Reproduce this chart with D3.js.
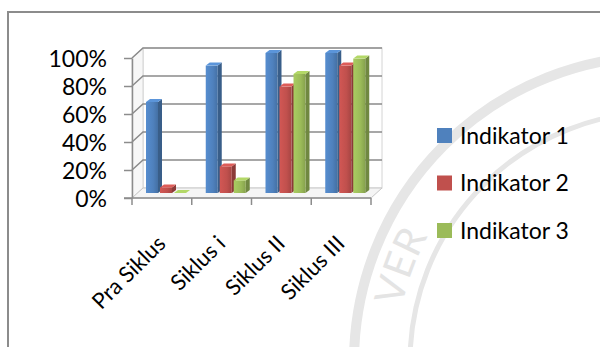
<!DOCTYPE html>
<html>
<head>
<meta charset="utf-8">
<script src="https://cdn.jsdelivr.net/npm/d3@7"></script>
<style>
  body { margin: 0; background: #fff; }
  svg { display: block; }
</style>
</head>
<body>
<svg id="chart" width="600" height="347"></svg>
<script>
// Data
const categories = ["Pra Siklus", "Siklus i", "Siklus II", "Siklus III"];
const seriesNames = ["Indikator 1", "Indikator 2", "Indikator 3"];
const indikator1 = [65, 91, 100, 100];
const indikator2 = [4, 19, 76, 91];
const indikator3 = [0, 9, 85, 96];
const yTicks = [0, 20, 40, 60, 80, 100];

const seriesValues = [indikator1, indikator2, indikator3];
const colors = ["#4F81BD", "#C0504D", "#9BBB59"];
const font = "Lato, 'Open Sans', sans-serif";

const svg = d3.select("#chart");

// background watermark (faint seal), only the lower letters show clear of the legend
const wm = svg.append("g").attr("fill", "none").attr("stroke", "#e6e6e6");
wm.append("circle").attr("cx", 660).attr("cy", 362).attr("r", 306).attr("stroke-width", 10);
wm.append("circle").attr("cx", 660).attr("cy", 362).attr("r", 250).attr("stroke-width", 5);
wm.append("path").attr("id", "wmArc")
    .attr("d", d3.arc()({ innerRadius: 264, outerRadius: 264, startAngle: -1.36, endAngle: -1.02 })
        .split("L")[0])
    .attr("transform", "translate(660,362)")
    .attr("stroke", "none");
wm.append("text")
    .attr("fill", "#e4e4e4").attr("stroke", "none")
    .attr("font-family", font).attr("font-size", 40)
    .append("textPath").attr("href", "#wmArc")
    .text("VER");

// outer frame
svg.append("rect")
    .attr("x", 8).attr("y", 12).attr("width", 620).attr("height", 360)
    .attr("fill", "none").attr("stroke", "#8c8c8c").attr("stroke-width", 2);

// scales
const y = d3.scaleLinear().domain([0, 100]).range([198, 58]);
const x0 = d3.scaleBand().domain(categories).range([132, 371]);
const x1 = d3.scaleBand().domain(seriesNames).range([0, 42]);

// 3D depth of walls and bars
const DX = 11, DY = -10;
const BX = 5, BY = -5;
const barW = 12, sideX = 4, sideY = -3;

const plot = svg.append("g");
const xL = x0.range()[0], xR = x0.range()[1];

// back wall
plot.append("rect")
    .attr("x", xL + DX).attr("y", y(100) + DY)
    .attr("width", xR - xL).attr("height", y(0) - y(100))
    .attr("fill", "#fff").attr("stroke", "#d4d4d4");

// left wall
plot.append("path")
    .attr("d", `M${xL},${y(100)}L${xL + DX},${y(100) + DY}L${xL + DX},${y(0) + DY}L${xL},${y(0)}Z`)
    .attr("fill", "#f7f7f7").attr("stroke", "#d4d4d4");

// floor
plot.append("path")
    .attr("d", `M${xL},${y(0)}L${xL + DX},${y(0) + DY}L${xR + DX},${y(0) + DY}L${xR},${y(0)}Z`)
    .attr("fill", "#f5f5f5").attr("stroke", "#c8c8c8");

// gridlines (left wall + back wall)
plot.append("g")
    .selectAll("path")
    .data(yTicks.filter(d => d > 0))
    .join("path")
    .attr("d", d => `M${xL},${y(d)}L${xL + DX},${y(d) + DY}L${xR + DX},${y(d) + DY}`)
    .attr("fill", "none")
    .attr("stroke", "#8a8a8a")
    .attr("stroke-width", 1.5);

// bars
const bars = [];
categories.forEach((c, i) => {
    seriesNames.forEach((s, j) => {
        bars.push({ c, s, j, v: seriesValues[j][i] });
    });
});

const defs = svg.append("defs");
colors.forEach((col, j) => {
    const g = defs.append("linearGradient").attr("id", "grad" + j)
        .attr("x1", 0).attr("x2", 1).attr("y1", 0).attr("y2", 0);
    g.append("stop").attr("offset", "0%").attr("stop-color", d3.color(col).brighter(0.25));
    g.append("stop").attr("offset", "60%").attr("stop-color", col);
    g.append("stop").attr("offset", "100%").attr("stop-color", d3.color(col).darker(0.4));
});

const barG = plot.append("g")
    .selectAll("g")
    .data(bars)
    .join("g");

const bx = d => x0(d.c) + 9 + x1(d.s) + BX;
const btop = d => y(d.v) + BY;
const bbot = y(0) + BY;

barG.append("path")
    .attr("d", d => {
        const x = bx(d), t = btop(d);
        return `M${x + barW},${t}L${x + barW + sideX},${t + sideY}L${x + barW + sideX},${bbot + sideY}L${x + barW},${bbot}Z`;
    })
    .attr("fill", d => d3.color(colors[d.j]).darker(0.9));

barG.append("rect")
    .attr("x", bx)
    .attr("y", btop)
    .attr("width", barW)
    .attr("height", d => bbot - btop(d))
    .attr("fill", d => `url(#grad${d.j})`);

barG.append("path")
    .attr("d", d => {
        const x = bx(d), t = btop(d);
        return `M${x},${t}L${x + sideX},${t + sideY}L${x + barW + sideX},${t + sideY}L${x + barW},${t}Z`;
    })
    .attr("fill", d => d3.color(colors[d.j]).brighter(0.4));

// y axis
const yAxis = plot.append("g")
    .attr("transform", `translate(${xL},0)`)
    .call(d3.axisLeft(y).tickValues(yTicks).tickFormat(d => d + "%").tickSize(8).tickSizeOuter(0).tickPadding(17));
yAxis.select(".domain").attr("stroke", "#8c8c8c").attr("stroke-width", 1.5);
yAxis.selectAll(".tick line").attr("stroke", "#8c8c8c").attr("stroke-width", 1.5);
yAxis.selectAll("text")
    .attr("font-family", font).attr("font-size", 23).attr("fill", "#000")
    .attr("dy", "0.36em");

// x axis
const xAxisG = plot.append("g").attr("transform", `translate(0,${y(0)})`);
xAxisG.append("line")
    .attr("x1", xL - 8).attr("x2", xR).attr("y1", 0).attr("y2", 0)
    .attr("stroke", "#8c8c8c").attr("stroke-width", 1.5);
xAxisG.selectAll(".xtick")
    .data(categories.concat(["end"]))
    .join("line")
    .attr("x1", (d, i) => i < categories.length ? x0(d) : xR)
    .attr("x2", (d, i) => i < categories.length ? x0(d) : xR)
    .attr("y1", 0).attr("y2", 7)
    .attr("stroke", "#8c8c8c").attr("stroke-width", 1.5);
xAxisG.selectAll(".xlabel")
    .data(categories)
    .join("text")
    .attr("transform", d => `translate(${x0(d) + x0.bandwidth() / 2 + 5},${47}) rotate(-45)`)
    .attr("text-anchor", "end")
    .attr("font-family", font).attr("font-size", 22).attr("fill", "#000")
    .text(d => d);

// legend
const legend = svg.append("g")
    .selectAll("g")
    .data(seriesNames)
    .join("g")
    .attr("transform", (d, i) => `translate(437,${128 + i * 47.5})`);
legend.append("rect")
    .attr("width", 15).attr("height", 15)
    .attr("fill", (d, i) => colors[i]);
legend.append("text")
    .attr("x", 23).attr("y", 7.5).attr("dy", "0.36em")
    .attr("font-family", font).attr("font-size", 23).attr("fill", "#000")
    .text(d => d);
</script>
</body>
</html>
